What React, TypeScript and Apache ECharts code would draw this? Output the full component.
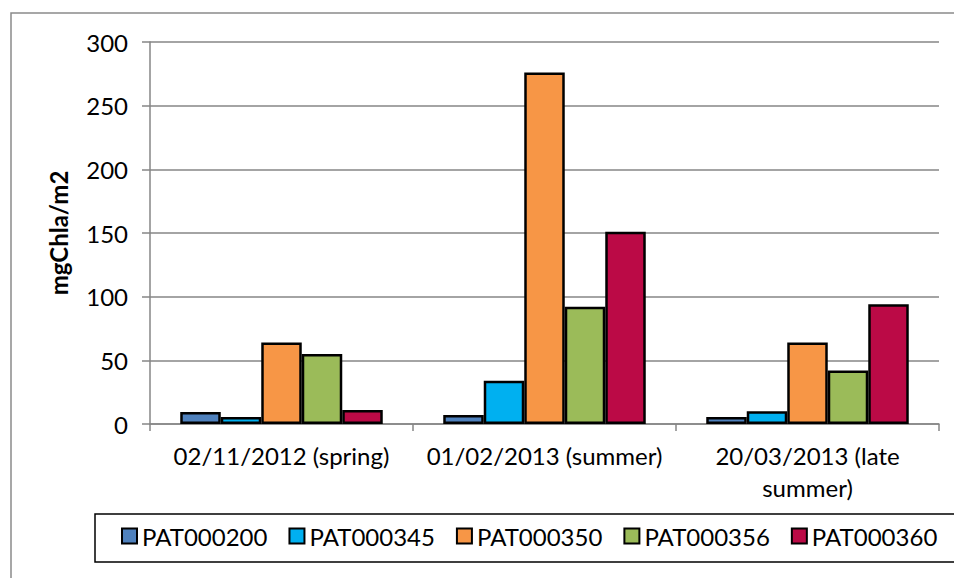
import React, { useEffect, useRef } from "react";
import * as echarts from "echarts";

const categories = ["02/11/2012 (spring)", "01/02/2013 (summer)", "20/03/2013 (late\nsummer)"];
const seriesNames = ["PAT000200", "PAT000345", "PAT000350", "PAT000356", "PAT000360"];
const colors = ["#4F81BD", "#00B0F0", "#F79646", "#9BBB59", "#BB0A46"];
const pat000200 = [9.5, 7, 5.5];
const pat000345 = [5.5, 34, 10];
const pat000350 = [64, 276, 64];
const pat000356 = [55, 92, 42];
const pat000360 = [11, 151, 94];
const seriesValues = [pat000200, pat000345, pat000350, pat000356, pat000360];
const yTicks = { min: 0, max: 300, interval: 50 };
const yTitle = "mgChla/m2";

const FONT = "Lato, 'Noto Sans', sans-serif";
const FS = 24;

export default function App() {
  const ref = useRef<HTMLDivElement>(null);
  useEffect(() => {
    if (!ref.current) return;
    const chart = echarts.init(ref.current, null, { renderer: "svg" });
    chart.setOption({
      animation: false,
      backgroundColor: "#ffffff",
      textStyle: { fontFamily: FONT },
      graphic: [
        {
          type: "rect",
          shape: { x: 11, y: 13, width: 1000, height: 700 },
          style: { fill: "none", stroke: "#8a8a8a", lineWidth: 1.5 },
          silent: true,
          z: -10,
        },
        {
          type: "rect",
          shape: { x: 95, y: 514, width: 900, height: 48 },
          style: { fill: "none", stroke: "#000000", lineWidth: 1.5 },
          silent: true,
          z: -5,
        },
      ],
      grid: { left: 150, right: 15, top: 42, bottom: 154, containLabel: false },
      legend: {
        left: 121,
        top: 524,
        padding: 0,
        itemWidth: 15,
        itemHeight: 15,
        itemGap: 21,
        icon: "rect",
        textStyle: { fontFamily: FONT, fontSize: FS, color: "#000" },
        data: seriesNames,
      },
      xAxis: {
        type: "category",
        data: categories,
        axisLine: { lineStyle: { color: "#868686", width: 1.5 } },
        axisTick: { show: true, length: 7, lineStyle: { color: "#868686", width: 1.5 } },
        axisLabel: {
          color: "#000",
          fontSize: FS,
          fontFamily: FONT,
          margin: 15,
          lineHeight: 32,
          interval: 0,
        },
      },
      yAxis: {
        type: "value",
        min: yTicks.min,
        max: yTicks.max,
        interval: yTicks.interval,
        name: yTitle,
        nameLocation: "middle",
        nameGap: 80,
        nameTextStyle: { color: "#000", fontSize: FS, fontWeight: "bold", fontFamily: FONT },
        axisLine: { show: true, lineStyle: { color: "#868686", width: 1.5 } },
        axisTick: { show: true, length: 8, lineStyle: { color: "#868686", width: 1.5 } },
        axisLabel: { color: "#000", fontSize: FS, fontFamily: FONT, margin: 22 },
        splitLine: { lineStyle: { color: "#868686", width: 1.5 } },
      },
      series: seriesNames.map((name, i) => ({
        name,
        type: "bar",
        data: seriesValues[i],
        barGap: "0%",
        barCategoryGap: "23%",
        itemStyle: { color: colors[i], borderColor: "#000", borderWidth: 2.5 },
      })),
    });
    return () => chart.dispose();
  }, []);
  return (
    <div
      ref={ref}
      style={{ position: "fixed", left: 0, top: 0, width: 954, height: 578 }}
    />
  );
}
